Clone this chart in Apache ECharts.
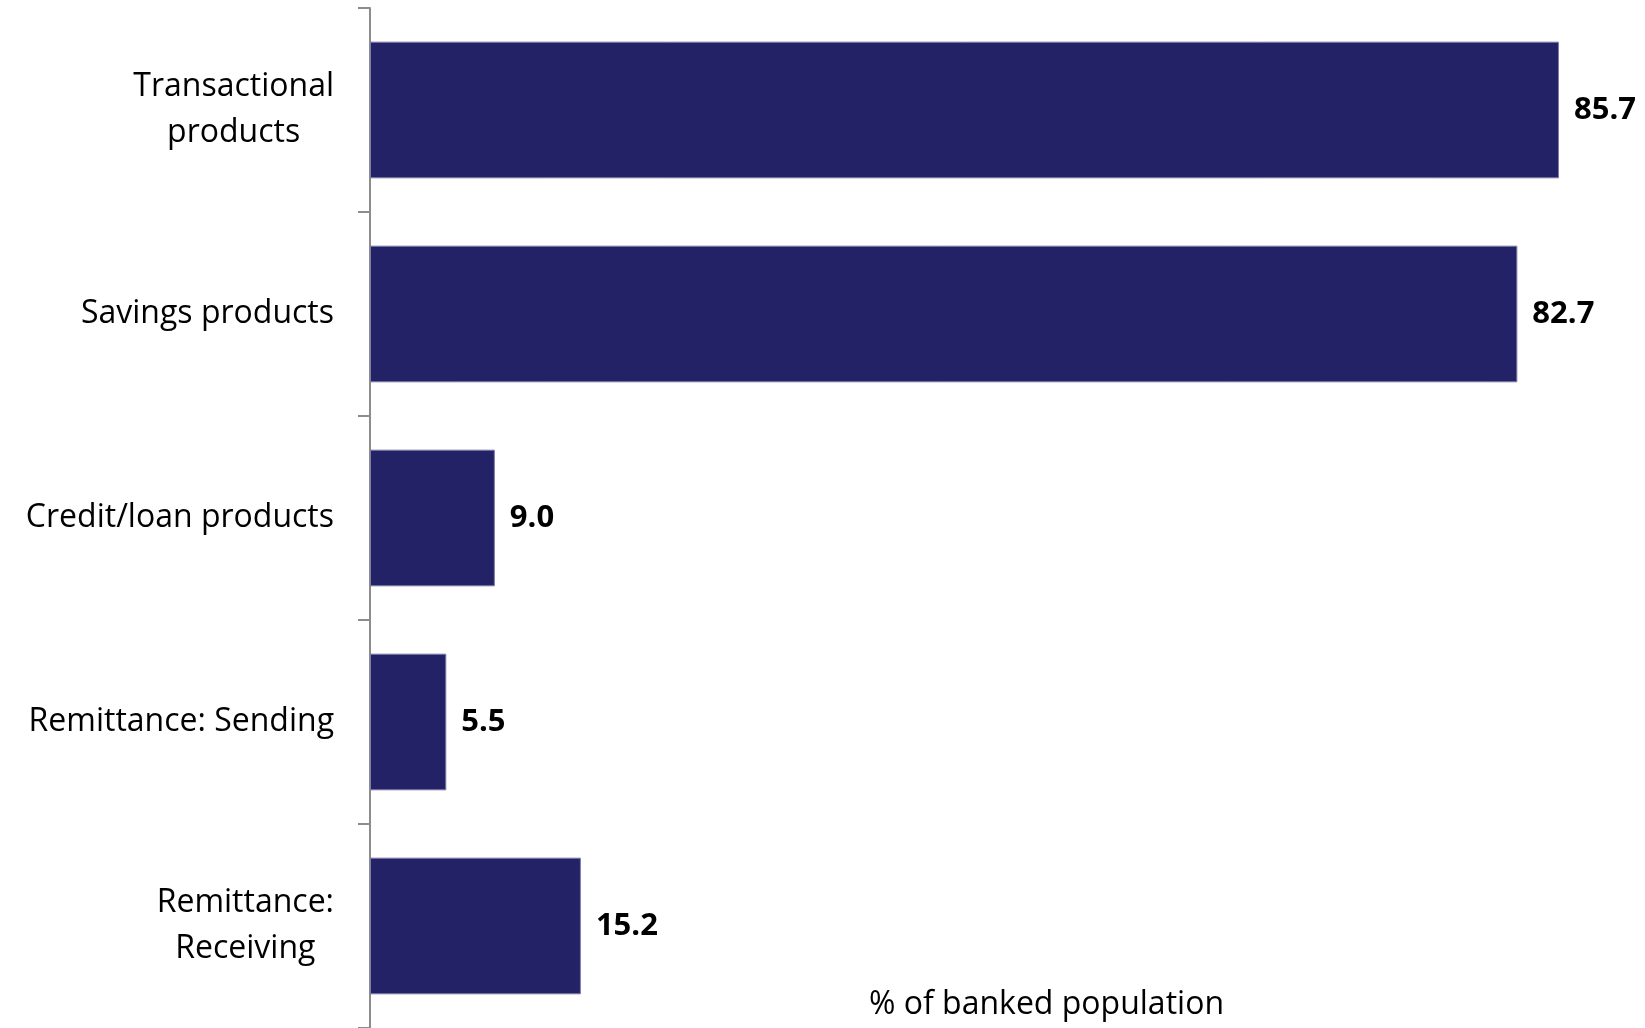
<!DOCTYPE html>
<html>
<head>
<meta charset="utf-8">
<script src="https://cdn.jsdelivr.net/npm/echarts@6/dist/echarts.min.js"></script>
<style>
	html, body { margin: 0; padding: 0; background: #fff; }
	#bar-container { width: 1645px; height: 1028px; }
</style>
</head>
<body>
<div id="bar-container"></div>
<script>
var categories = ['Transactional\nproducts', 'Savings products', 'Credit/loan products', 'Remittance: Sending', 'Remittance:\nReceiving'];
var banked_share = [85.7, 82.7, 9.0, 5.5, 15.2];
var axis_name = '% of banked population';

var barChart = echarts.init(document.getElementById('bar-container'));
var option = {
	animation: false,
	title: {
		text: axis_name,
		left: 864,
		top: 984,
		textStyle: {
			fontFamily: 'Open Sans',
			fontWeight: 'normal',
			fontSize: 32,
			color: '#000'
		}
	},
	grid: {
		left: 370,
		right: 0,
		top: 8,
		bottom: -7
	},
	xAxis: {
		type: 'value',
		min: 0,
		max: 91.9,
		show: false
	},
	yAxis: {
		type: 'category',
		inverse: true,
		data: categories,
		axisLine: {
			show: true,
			lineStyle: { color: '#8c8c8c', width: 2 }
		},
		axisTick: {
			show: true,
			length: 12,
			lineStyle: { color: '#8c8c8c', width: 2 }
		},
		axisLabel: {
			margin: 36,
			formatter: function (value) {
				return value.split('\n').map(function (s) { return '{c|' + s + '}'; }).join('\n');
			},
			rich: {
				c: {
					align: 'center',
					fontFamily: 'Open Sans',
					fontSize: 32,
					lineHeight: 46,
					color: '#000'
				}
			}
		}
	},
	series: [{
		type: 'bar',
		data: banked_share,
		barCategoryGap: '33%',
		itemStyle: {
			color: '#232266',
			borderColor: '#7d7da6',
			borderWidth: 1
		},
		label: {
			show: true,
			position: 'right',
			distance: 15,
			formatter: function (p) { return p.value.toFixed(1); },
			fontFamily: 'Open Sans',
			fontWeight: 'bold',
			fontSize: 31,
			color: '#000'
		}
	}]
};

barChart.setOption(option);
</script>
</body>
</html>
